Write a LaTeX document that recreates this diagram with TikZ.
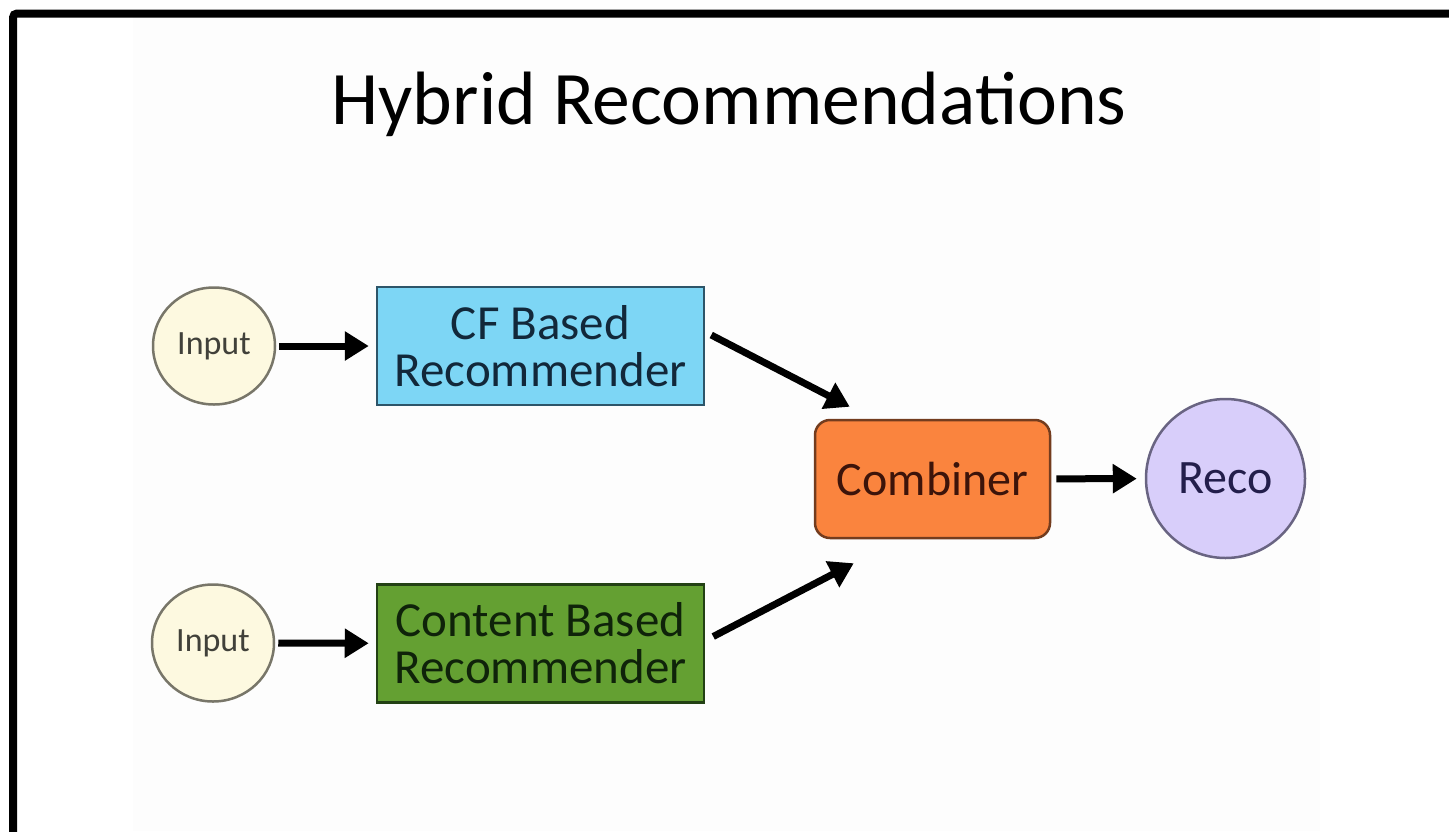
\documentclass[tikz,border=0pt]{standalone}
\usepackage{fontspec}
\setmainfont{Carlito}
\usetikzlibrary{arrows.meta,shapes.geometric}
\definecolor{inputfill}{RGB}{253,249,224}
\definecolor{inputdraw}{RGB}{120,118,105}
\definecolor{inputtext}{RGB}{65,65,58}
\definecolor{cffill}{RGB}{125,214,245}
\definecolor{cfdraw}{RGB}{45,85,105}
\definecolor{cftext}{RGB}{18,40,58}
\definecolor{cbfill}{RGB}{100,160,50}
\definecolor{cbdraw}{RGB}{35,65,20}
\definecolor{cbtext}{RGB}{15,35,10}
\definecolor{combfill}{RGB}{250,132,62}
\definecolor{combdraw}{RGB}{115,60,30}
\definecolor{combtext}{RGB}{60,20,10}
\definecolor{recofill}{RGB}{216,206,250}
\definecolor{recodraw}{RGB}{105,100,130}
\definecolor{recotext}{RGB}{35,30,75}
\definecolor{slidebg}{RGB}{253,253,253}
\begin{document}
\begin{tikzpicture}[x=1pt,y=-1pt,
  inputnode/.style={ellipse, draw=inputdraw, line width=2.5pt, fill=inputfill, inner sep=0pt,
    minimum width=122pt, minimum height=117pt, text=inputtext, font=\fontsize{34}{36}\selectfont},
  recbox/.style={rectangle, line width=2.5pt, inner sep=0pt, minimum width=327pt,
    minimum height=118pt, align=center, font=\fontsize{49}{47}\selectfont},
  arr/.style={line width=7pt, -{Triangle[length=24pt,width=28pt]}},
]
\useasboundingbox (0,0) rectangle (1449,831);
\fill[white] (0,0) rectangle (1449,831);
\fill[slidebg] (133,17) rectangle (1320,831);
\draw[line width=8pt, rounded corners=4pt] (13,840) -- (13,13.5) -- (1460,13.5);

\node[font=\fontsize{75.6}{80}\selectfont, anchor=base] (title) at (729,124) {Hybrid Recommendations};

\node[inputnode] (in1) at (214,346) {Input};
\node[inputnode] (in2) at (213,643) {Input};
\node[recbox, draw=cfdraw, fill=cffill, text=cftext] (cf) at (540.5,346) {CF Based\\Recommender};
\node[recbox, draw=cbdraw, fill=cbfill, text=cbtext] (cb) at (540.5,643.5) {Content Based\\Recommender};
\node[rectangle, rounded corners=15pt, line width=2.5pt, draw=combdraw, fill=combfill, text=combtext,
  minimum width=235pt, minimum height=118pt, inner sep=0pt, font=\fontsize{48}{48}\selectfont] (comb) at (932.5,479) {Combiner};
\node[circle, line width=2.5pt, draw=recodraw, fill=recofill, text=recotext, minimum size=159pt,
  inner sep=0pt, font=\fontsize{48}{48}\selectfont] (reco) at (1225.5,478.5) {Reco};

\draw[arr, shorten <=3pt, shorten >=7pt] (in1) -- (cf);
\draw[arr, shorten <=3pt, shorten >=7pt] (in2) -- (cb);
\draw[arr, shorten <=5pt, shorten >=8pt] (comb) -- (reco);
\draw[arr] ([xshift=6pt,yshift=11pt]cf.east) -- ([xshift=36pt,yshift=12pt]comb.north west);
\draw[arr] ([xshift=8pt,yshift=7pt]cb.east) -- ([xshift=40pt,yshift=-24pt]comb.south west);
\end{tikzpicture}
\end{document}
